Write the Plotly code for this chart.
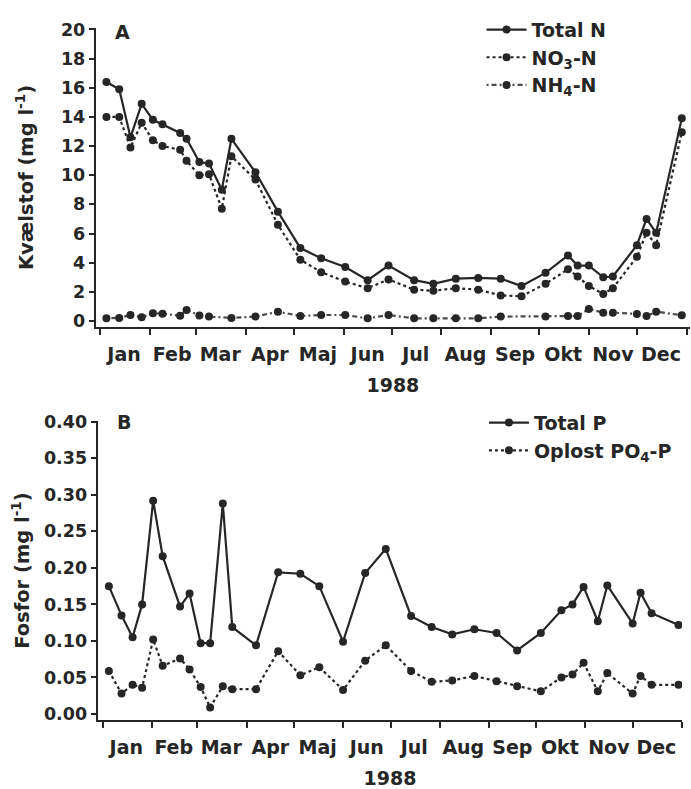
import plotly.graph_objects as go

INK = "#262626"
FONT = "DejaVu Sans"

# ---------------- Panel A: nitrogen ----------------
dates_a = ["1988-01-05", "1988-01-13", "1988-01-20", "1988-01-27", "1988-02-03", "1988-02-09",
           "1988-02-20", "1988-02-24", "1988-03-03", "1988-03-09", "1988-03-17", "1988-03-23",
           "1988-04-07", "1988-04-21", "1988-05-05", "1988-05-18", "1988-06-02", "1988-06-16",
           "1988-06-29", "1988-07-15", "1988-07-27", "1988-08-10", "1988-08-24", "1988-09-07",
           "1988-09-20", "1988-10-05", "1988-10-19", "1988-10-25", "1988-11-01", "1988-11-10",
           "1988-11-16", "1988-12-01", "1988-12-07", "1988-12-13", "1988-12-29"]
total_n = [16.4, 15.9, 12.6, 14.9, 13.8, 13.5, 12.9, 12.5, 10.9, 10.8, 9.0, 12.5,
           10.2, 7.5, 5.0, 4.3, 3.7, 2.8, 3.8, 2.8, 2.55, 2.9, 2.95, 2.9,
           2.4, 3.3, 4.5, 3.8, 3.8, 3.0, 3.05, 5.2, 7.0, 6.05, 13.9]
no3_n = [14.0, 14.0, 11.9, 13.6, 12.4, 12.0, 11.75, 11.0, 10.0, 10.07, 7.7, 11.3,
         9.7, 6.6, 4.2, 3.35, 2.7, 2.25, 2.85, 2.15, 2.07, 2.25, 2.15, 1.75,
         1.7, 2.55, 3.55, 3.05, 2.4, 1.85, 2.25, 4.4, 6.05, 5.2, 12.95]
nh4_n = [0.19, 0.21, 0.41, 0.25, 0.53, 0.5, 0.36, 0.76, 0.37, 0.3, None, 0.21,
         0.3, 0.64, 0.34, 0.41, 0.41, 0.18, 0.41, 0.18, 0.18, 0.18, 0.18, 0.3,
         None, 0.3, 0.34, 0.34, 0.82, 0.57, 0.57, 0.48, 0.34, 0.64, 0.39]

# ---------------- Panel B: phosphorus ----------------
dates_b = ["1988-01-05", "1988-01-13", "1988-01-20", "1988-01-26", "1988-02-02", "1988-02-08",
           "1988-02-19", "1988-02-25", "1988-03-03", "1988-03-09", "1988-03-17", "1988-03-23",
           "1988-04-07", "1988-04-21", "1988-05-05", "1988-05-17", "1988-06-01", "1988-06-15",
           "1988-06-28", "1988-07-14", "1988-07-27", "1988-08-09", "1988-08-23", "1988-09-06",
           "1988-09-19", "1988-10-04", "1988-10-17", "1988-10-24", "1988-10-31", "1988-11-09",
           "1988-11-15", "1988-12-01", "1988-12-06", "1988-12-13", "1988-12-30"]
total_p = [0.175, 0.135, 0.105, 0.150, 0.292, 0.216, 0.147, 0.165, 0.097, 0.097, 0.288, 0.119,
           0.094, 0.194, 0.192, 0.175, 0.099, 0.193, 0.226, 0.134, 0.119, 0.109, 0.116, 0.111,
           0.087, 0.111, 0.142, 0.150, 0.174, 0.127, 0.176, 0.124, 0.166, 0.138, 0.122]
po4_p = [0.059, 0.028, 0.040, 0.036, 0.102, 0.066, 0.076, 0.061, 0.037, 0.009, 0.038, 0.034,
         0.034, 0.086, 0.053, 0.064, 0.033, 0.073, 0.094, 0.059, 0.044, 0.046, 0.052, 0.045,
         0.038, 0.031, 0.050, 0.054, 0.070, 0.031, 0.056, 0.028, 0.052, 0.040, 0.040]

months = ["Jan", "Feb", "Mar", "Apr", "Maj", "Jun", "Jul", "Aug", "Sep", "Okt", "Nov", "Dec"]
month_mid = ["1988-01-16", "1988-02-15", "1988-03-16", "1988-04-16", "1988-05-16", "1988-06-16",
             "1988-07-16", "1988-08-16", "1988-09-16", "1988-10-16", "1988-11-16", "1988-12-16"]
n_ticks = list(range(0, 21, 2))
p_ticks = [0.0, 0.05, 0.10, 0.15, 0.20, 0.25, 0.30, 0.35, 0.40]

fig = go.Figure()

def add(x, y, name, dash, ax, leg, color=INK):
    fig.add_trace(go.Scatter(
        x=x, y=y, name=name, mode="lines+markers", connectgaps=True,
        line=dict(color=color, width=2.2, dash=dash),
        marker=dict(size=8, color=INK),
        xaxis=ax[0], yaxis=ax[1], legend=leg))

add(dates_a, total_n, "Total N", "solid", ("x", "y"), "legend")
add(dates_a, no3_n, "NO<sub>3</sub>-N", "dot", ("x", "y"), "legend")
add(dates_a, nh4_n, "NH<sub>4</sub>-N", "2px,3px,5px,3px", ("x", "y"), "legend", color="#4a4a4a")
add(dates_b, total_p, "Total P", "solid", ("x2", "y2"), "legend2")
add(dates_b, po4_p, "Oplost PO<sub>4</sub>-P", "dot", ("x2", "y2"), "legend2")

def bold(size):
    return dict(family=FONT, size=size, color=INK, weight="bold")

def xaxis_cfg(domain, anchor, rng):
    return dict(
        domain=domain, anchor=anchor, type="date", range=rng,
        tickmode="array", tickvals=month_mid, ticktext=months,
        ticks="outside", ticklen=9, tickcolor="rgba(0,0,0,0)",
        tickfont=bold(19), showline=True, linecolor=INK, linewidth=2.4,
        showgrid=False, zeroline=False, automargin=False,
        minor=dict(ticks="outside", ticklen=6, tickwidth=2, tickcolor=INK,
                   dtick="M1", tick0="1988-01-01", showgrid=False),
        title=dict(text="1988", font=bold(19), standoff=15),
    )

def yaxis_cfg(domain, anchor, rng, tickvals, fmt, title, standoff):
    return dict(
        domain=domain, anchor=anchor, range=rng,
        tickmode="array", tickvals=tickvals, tickformat=fmt,
        ticks="outside", ticklen=5, tickwidth=2, tickcolor=INK,
        tickfont=bold(17.5), showline=True, linecolor=INK, linewidth=2.4,
        showgrid=False, zeroline=False, automargin=False,
        title=dict(text=title, font=bold(19.5), standoff=standoff),
    )

fig.update_layout(
    width=691, height=789, autosize=False,
    margin=dict(l=96, r=0, t=28, b=69),
    paper_bgcolor="white", plot_bgcolor="white",
    xaxis=xaxis_cfg([0, 0.998], "y", ["1987-12-29 12:00", "1989-01-03"]),
    yaxis=yaxis_cfg([0.568, 1.0], "x", [-0.41, 20.1], n_ticks, "d",
                    "Kvælstof (mg l<sup>-1</sup>)", 22),
    xaxis2=xaxis_cfg([0.003, 0.985], "y2", ["1987-12-29", "1989-01-01 06:00"]),
    yaxis2=yaxis_cfg([0.0, 0.432], "x2", [-0.0082, 0.401], p_ticks, ".2f",
                     "Fosfor (mg l<sup>-1</sup>)", 9),
    legend=dict(x=0.648, y=1.025, xanchor="left", yanchor="top", font=bold(19),
                bgcolor="rgba(0,0,0,0)", itemwidth=40),
    legend2=dict(x=0.652, y=0.457, xanchor="left", yanchor="top", font=bold(19),
                 bgcolor="rgba(0,0,0,0)", itemwidth=40),
    showlegend=True,
    annotations=[
        dict(text="A", xref="x domain", yref="y domain", x=0.045, y=0.987,
             xanchor="center", yanchor="middle", showarrow=False, font=bold(19)),
        dict(text="B", xref="x2 domain", yref="y2 domain", x=0.045, y=0.997,
             xanchor="center", yanchor="middle", showarrow=False, font=bold(19)),
    ],
)

fig.write_html("out.html")
